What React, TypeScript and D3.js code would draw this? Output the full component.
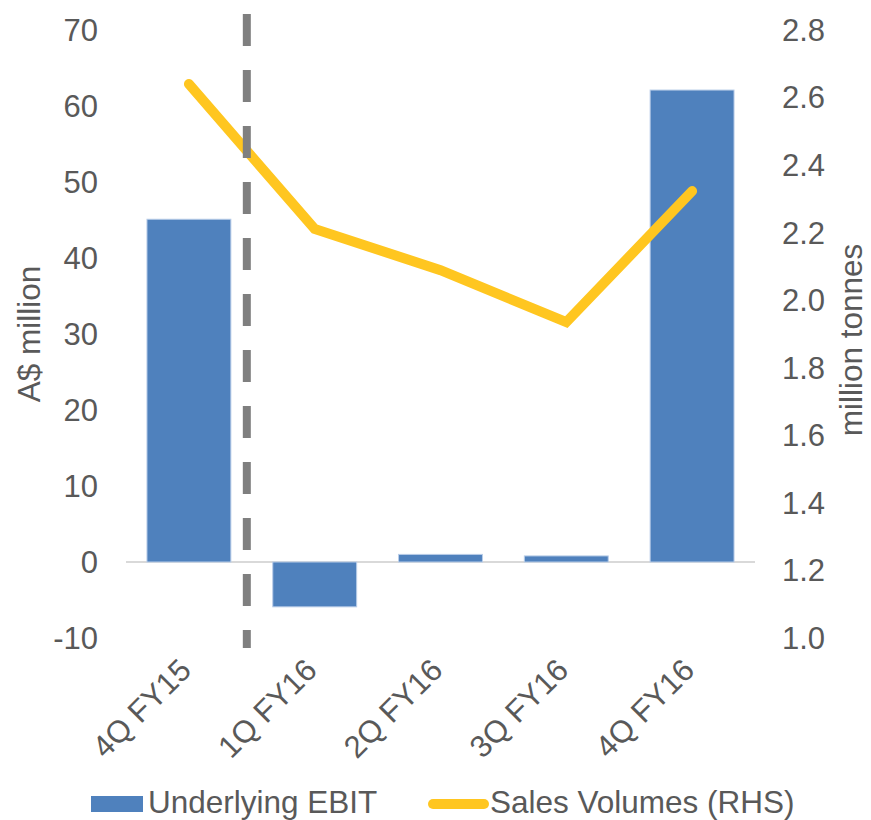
import React from "react";
import * as d3 from "d3";

const categories = ["4Q FY15", "1Q FY16", "2Q FY16", "3Q FY16", "4Q FY16"];
const ebit = [45.1, -5.9, 1.0, 0.8, 62.1];
const salesVolumes = [2.64, 2.211, 2.089, 1.935, 2.323];
const leftTicks = [-10, 0, 10, 20, 30, 40, 50, 60, 70];
const rightTicks = [1.0, 1.2, 1.4, 1.6, 1.8, 2.0, 2.2, 2.4, 2.6, 2.8];

const W = 871;
const H = 820;
const FONT = "'Liberation Sans', Arial, sans-serif";
const TXT = "#595959";

export default function App() {
  const x = d3
    .scaleBand<string>()
    .domain(categories)
    .range([126, 755])
    .paddingInner(0.333)
    .paddingOuter(0.1667);
  const yL = d3.scaleLinear().domain([-10, 70]).range([638, 30]);
  const yR = d3.scaleLinear().domain([1.0, 2.8]).range([638, 30]);
  const cx = (c: string) => (x(c) as number) + x.bandwidth() / 2;

  const line = d3
    .line<number>()
    .x((_, i) => cx(categories[i]))
    .y((d) => yR(d));

  const dashX = (cx(categories[0]) + cx(categories[1])) / 2 - 5;

  return (
    <svg
      width={W}
      height={H}
      style={{ position: "absolute", left: 0, top: 0, background: "#fff" }}
      fontFamily={FONT}
    >
      {/* zero line */}
      <line x1={126} x2={755} y1={yL(0)} y2={yL(0)} stroke="#d9d9d9" strokeWidth={2} />
      {/* bars */}
      {ebit.map((v, i) => (
        <rect
          key={i}
          x={x(categories[i])}
          width={x.bandwidth()}
          y={Math.min(yL(v), yL(0))}
          height={Math.abs(yL(v) - yL(0))}
          fill="#4F81BD"
          stroke="#B9CDE8"
          strokeWidth={1}
        />
      ))}
      {/* line series */}
      <path
        d={line(salesVolumes) || ""}
        fill="none"
        stroke="#FFC620"
        strokeWidth={10}
        strokeLinecap="round"
        strokeLinejoin="miter"
      />
      {/* dashed separator */}
      <line
        x1={dashX}
        x2={dashX}
        y1={14}
        y2={648}
        stroke="#7F7F7F"
        strokeWidth={8}
        strokeDasharray="32 24"
      />
      {/* left ticks */}
      {leftTicks.map((t) => (
        <text key={t} x={98} y={yL(t)} dy="0.35em" textAnchor="end" fontSize={31} fill={TXT}>
          {t}
        </text>
      ))}
      {/* right ticks */}
      {rightTicks.map((t) => (
        <text key={t} x={782} y={yR(t)} dy="0.35em" textAnchor="start" fontSize={31} fill={TXT}>
          {t.toFixed(1)}
        </text>
      ))}
      {/* axis titles */}
      <text
        transform={`translate(40, ${(30 + 638) / 2}) rotate(-90)`}
        textAnchor="middle"
        fontSize={31.5}
        fill={TXT}
      >
        A$ million
      </text>
      <text
        transform={`translate(862, 340) rotate(-90)`}
        textAnchor="middle"
        fontSize={31.5}
        fill={TXT}
      >
        million tonnes
      </text>
      {/* category labels */}
      {categories.map((c) => (
        <text
          key={c}
          transform={`translate(${cx(c) + 4}, 672) rotate(-45)`}
          textAnchor="end"
          fontSize={31}
          fill={TXT}
        >
          {c}
        </text>
      ))}
      {/* legend */}
      <rect x={91} y={796} width={52} height={16} fill="#4F81BD" />
      <text x={148} y={813} fontSize={31.5} fill={TXT}>
        Underlying EBIT
      </text>
      <line x1={433} x2={484} y1={804} y2={804} stroke="#FFC620" strokeWidth={10} strokeLinecap="round" />
      <text x={490} y={813} fontSize={31.5} fill={TXT}>
        Sales Volumes (RHS)
      </text>
    </svg>
  );
}
